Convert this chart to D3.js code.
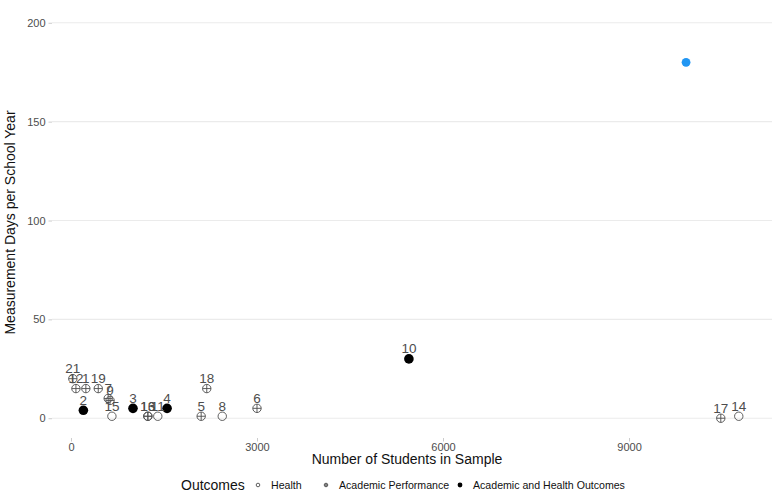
<!DOCTYPE html>
<html>
<head>
<meta charset="utf-8">
<script src="https://cdn.jsdelivr.net/npm/d3@7"></script>
<style>
  html,body{margin:0;padding:0;background:#fff;}
  svg{display:block;font-family:"Liberation Sans", Arial, sans-serif;}
</style>
</head>
<body>
<div id="chart"></div>
<script>
// studies: id label, sample size, measurement days, outcome type
const studyIds  = ['21','12','1','19','7','9','2','15','3','13','16','11','4','5','8','18','6','10','17','14'];
const students  = [30, 80, 240, 440, 600, 630, 200, 660, 1000, 1240, 1240, 1400, 1550, 2100, 2440, 2190, 3000, 5450, 10480, 10770];
const days      = [20, 15, 15, 15, 10, 9, 4, 1, 5, 1, 1, 1, 5, 1, 1, 15, 5, 30, 0, 1];
const outcomes  = ['AP','AP','AP','AP','AP','AP','AH','H','AH','AP','AP','H','AH','AP','H','AP','AP','AH','AP','H'];

// highlighted point (no label)
const newStudents = [9920];
const newDays     = [180];

const outcomeKeys   = ['H','AP','AH'];
const outcomeLabels = ['Health','Academic Performance','Academic and Health Outcomes'];
const xTicks = [0, 3000, 6000, 9000];
const yTicks = [0, 50, 100, 150, 200];

const W = 777, H = 500;
const P = {l:52, r:772, t:3, b:438};
const ink = '#4d4d4d';

const svg = d3.select('#chart').append('svg').attr('width',W).attr('height',H);
const x = d3.scaleLinear().domain([-306, 11306]).range([P.l, P.r]);
const y = d3.scaleLinear().domain([-10, 210]).range([P.b, P.t]);

// horizontal grid
svg.append('g').selectAll('line').data(yTicks).join('line')
  .attr('x1',P.l).attr('x2',P.r).attr('y1',d=>y(d)).attr('y2',d=>y(d))
  .attr('stroke','#ebebeb').attr('stroke-width',1.1);

// axes
const yAx = svg.append('g').attr('transform',`translate(${P.l},0)`)
  .call(d3.axisLeft(y).tickValues(yTicks).tickSize(3.5).tickPadding(3));
const xAx = svg.append('g').attr('transform',`translate(0,${P.b})`)
  .call(d3.axisBottom(x).tickValues(xTicks).tickSize(3.5).tickPadding(2).tickFormat(d3.format('d')));
[yAx,xAx].forEach(a=>{
  a.select('.domain').remove();
  a.selectAll('line').attr('stroke','#cccccc');
  a.selectAll('text').attr('fill',ink).attr('font-size',11).attr('font-family','"Liberation Sans", Arial, sans-serif');
});

// axis titles
svg.append('text').attr('x',407).attr('y',464).attr('text-anchor','middle')
  .attr('font-size',14).attr('fill','#111').text('Number of Students in Sample');
svg.append('text').attr('transform',`translate(15,${(P.t+P.b)/2+2}) rotate(-90)`).attr('text-anchor','middle')
  .attr('font-size',14).attr('fill','#111').text('Measurement Days per School Year');

// marker drawing
function marker(g, type, cx, cy, r){
  if(type==='H'){
    g.append('circle').attr('cx',cx).attr('cy',cy).attr('r',r).attr('fill','none').attr('stroke',ink).attr('stroke-width',0.9);
  } else if(type==='AP'){
    g.append('circle').attr('cx',cx).attr('cy',cy).attr('r',r).attr('fill','none').attr('stroke',ink).attr('stroke-width',0.9);
    g.append('line').attr('x1',cx-r).attr('x2',cx+r).attr('y1',cy).attr('y2',cy).attr('stroke',ink).attr('stroke-width',0.9);
    g.append('line').attr('x1',cx).attr('x2',cx).attr('y1',cy-r).attr('y2',cy+r).attr('stroke',ink).attr('stroke-width',0.9);
  } else {
    g.append('circle').attr('cx',cx).attr('cy',cy).attr('r',r+0.6).attr('fill','#000');
  }
}

const pts = svg.append('g');
const labs = svg.append('g');
studyIds.forEach((id,i)=>{
  const cx = x(students[i]), cy = y(days[i]);
  marker(pts, outcomes[i], cx, cy, 4.2);
  labs.append('text').attr('x',cx).attr('y',cy-5.5).attr('text-anchor','middle')
    .attr('font-size',13.5).attr('fill',ink).text(id);
});
newStudents.forEach((s,i)=>{
  pts.append('circle').attr('cx',x(s)).attr('cy',y(newDays[i])).attr('r',4.4).attr('fill','#2196f3');
});

// legend
const lg = svg.append('g');
lg.append('text').attr('x',181).attr('y',490).attr('font-size',14).attr('fill','#111').text('Outcomes');
const keyX = [258, 326, 460];
outcomeKeys.forEach((k,i)=>{
  marker(lg, k, keyX[i], 485, 1.8);
  lg.append('text').attr('x',keyX[i]+13).attr('y',489).attr('font-size',10.6).attr('fill','#111').text(outcomeLabels[i]);
});
</script>
</body>
</html>
